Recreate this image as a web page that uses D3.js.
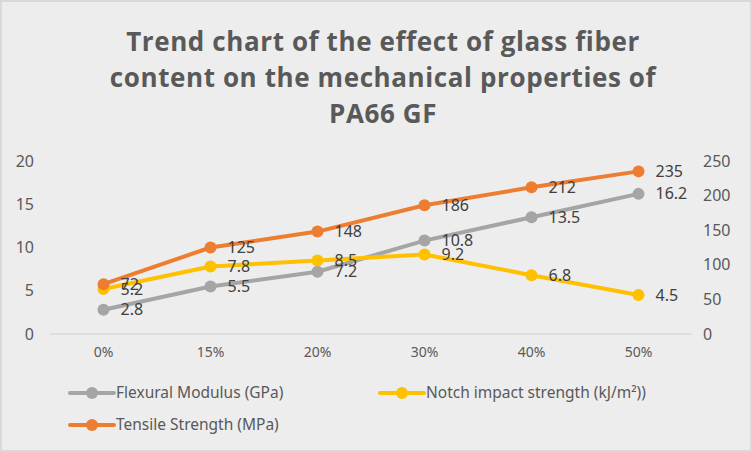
<!DOCTYPE html>
<html>
<head>
<meta charset="utf-8">
<script src="https://cdn.jsdelivr.net/npm/d3@7"></script>
<style>
  body { margin: 0; background: #fff; }
  svg { display: block; }
</style>
</head>
<body>
<div id="chart"></div>
<script>
// chart data
const categories = ["0%", "15%", "20%", "30%", "40%", "50%"];
const flexuralModulus = [2.8, 5.5, 7.2, 10.8, 13.5, 16.2];
const notchImpact = [5.2, 7.8, 8.5, 9.2, 6.8, 4.5];
const tensileStrength = [72, 125, 148, 186, 212, 235];
const leftTicks = [0, 5, 10, 15, 20];
const rightTicks = [0, 50, 100, 150, 200, 250];
const titleLines = ["Trend chart of the effect of glass fiber", "content on the mechanical properties of", "PA66 GF"];

const width = 752, height = 452;
const margin = { top: 161, right: 60, bottom: 118, left: 50 };
const font = "'Noto Sans', sans-serif";

const svg = d3.select("#chart").append("svg")
    .attr("width", width)
    .attr("height", height);

// background + border
svg.append("rect")
    .attr("x", 1).attr("y", 1)
    .attr("width", width - 2).attr("height", height - 2)
    .attr("fill", "#ededed")
    .attr("stroke", "#d9d9d9")
    .attr("stroke-width", 2);

// title
svg.append("g").selectAll("text")
    .data(titleLines)
    .enter().append("text")
    .attr("x", 383)
    .attr("y", (d, i) => 51 + i * 36)
    .attr("text-anchor", "middle")
    .attr("font-family", "'Open Sans', sans-serif")
    .attr("font-weight", "bold")
    .attr("font-size", 26)
    .attr("letter-spacing", 0.6)
    .attr("fill", "#595959")
    .text(d => d);

const x = d3.scaleBand()
    .domain(categories)
    .range([margin.left, width - margin.right]);

const yLeft = d3.scaleLinear()
    .domain([0, 20])
    .range([height - margin.bottom, margin.top]);

const yRight = d3.scaleLinear()
    .domain([0, 250])
    .range([height - margin.bottom, margin.top]);

// baseline
svg.append("line")
    .attr("x1", margin.left).attr("x2", width - margin.right)
    .attr("y1", yLeft(0)).attr("y2", yLeft(0))
    .attr("stroke", "#d9d9d9")
    .attr("stroke-width", 1.5);

// axes
const axisStyle = g => {
    g.select(".domain").remove();
    g.selectAll(".tick line").remove();
    g.selectAll("text")
        .attr("font-family", font)
        .attr("font-size", 16)
        .attr("fill", "#595959");
};

svg.append("g")
    .attr("transform", `translate(${margin.left - 6},0)`)
    .call(d3.axisLeft(yLeft).tickValues(leftTicks).tickSize(0).tickPadding(10))
    .call(axisStyle);

svg.append("g")
    .attr("transform", `translate(${width - margin.right + 2},0)`)
    .call(d3.axisRight(yRight).tickValues(rightTicks).tickSize(0).tickPadding(9))
    .call(axisStyle);

svg.append("g")
    .attr("transform", `translate(0,${yLeft(0)})`)
    .call(d3.axisBottom(x).tickSize(0).tickPadding(13))
    .call(axisStyle)
    .selectAll("text").attr("font-size", 14);

const series = [
    { name: "Flexural Modulus (GPa)", values: flexuralModulus, y: yLeft, color: "#a5a5a5" },
    { name: "Notch impact strength (kJ/m²))", values: notchImpact, y: yLeft, color: "#ffc000" },
    { name: "Tensile Strength (MPa)", values: tensileStrength, y: yRight, color: "#ed7d31" }
];

const cx = d => x(d) + x.bandwidth() / 2;

series.forEach(s => {
    const line = d3.line()
        .x((d, i) => cx(categories[i]))
        .y(d => s.y(d));

    const g = svg.append("g");
    g.append("path")
        .datum(s.values)
        .attr("d", line)
        .attr("fill", "none")
        .attr("stroke", s.color)
        .attr("stroke-width", 4)
        .attr("stroke-linejoin", "round");

    g.selectAll("circle")
        .data(s.values)
        .enter().append("circle")
        .attr("cx", (d, i) => cx(categories[i]))
        .attr("cy", d => s.y(d))
        .attr("r", 6)
        .attr("fill", s.color);
});

// data labels drawn after lines so they sit on top
series.forEach(s => {
    svg.append("g").selectAll("text")
        .data(s.values)
        .enter().append("text")
        .attr("x", (d, i) => cx(categories[i]) + 17)
        .attr("y", d => s.y(d))
        .attr("dy", "0.35em")
        .attr("font-family", font)
        .attr("font-size", 16)
        .attr("fill", "#404040")
        .text(d => d);
});

// legend
const legendPos = [[70, 393], [380, 393], [70, 425]];
const legend = svg.append("g").selectAll("g")
    .data(series)
    .enter().append("g")
    .attr("transform", (d, i) => `translate(${legendPos[i][0]},${legendPos[i][1]})`);

legend.append("line")
    .attr("x1", 0).attr("x2", 44)
    .attr("stroke", d => d.color)
    .attr("stroke-width", 4)
    .attr("stroke-linecap", "round");

legend.append("circle")
    .attr("cx", 22)
    .attr("r", 6)
    .attr("fill", d => d.color);

legend.append("text")
    .attr("x", 46)
    .attr("dy", "0.35em")
    .attr("font-family", font)
    .attr("font-size", 15.5)
    .attr("fill", "#595959")
    .text(d => d.name);
</script>
</body>
</html>
